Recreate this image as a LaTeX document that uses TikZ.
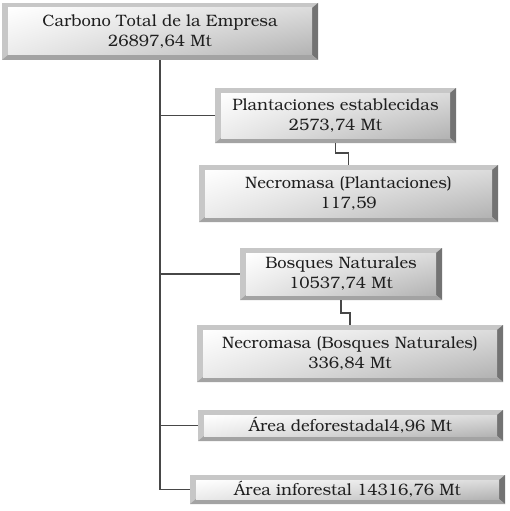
\documentclass[tikz,border=0pt]{standalone}
\usepackage[T1]{fontenc}
\usepackage{bookman}
\usetikzlibrary{shapes,arrows,positioning,shadings}
\tikzstyle{box}=[rectangle,inner sep=0pt,align=center,text=black!88,font=\fontsize{16.5}{20}\selectfont,
  path picture={
    \fill[black!22] (path picture bounding box.south west) rectangle (path picture bounding box.north east);
    \fill[black!55] (path picture bounding box.north east) -- (path picture bounding box.south east)
      -- ([shift={(-6pt,5pt)}]path picture bounding box.south east) -- ([shift={(-6pt,-5pt)}]path picture bounding box.north east) -- cycle;
    \fill[black!36] (path picture bounding box.south west) -- (path picture bounding box.south east)
      -- ([shift={(-6pt,5pt)}]path picture bounding box.south east) -- ([shift={(6pt,5pt)}]path picture bounding box.south west) -- cycle;
    \shade[upper left=white,upper right=black!14,lower left=black!8,lower right=black!30]
      ([shift={(6pt,-5pt)}]path picture bounding box.north west) rectangle ([shift={(-6pt,5pt)}]path picture bounding box.south east);
  }]
\tikzstyle{link}=[draw=black!72,line width=1.5pt]

\begin{document}
\begin{tikzpicture}[x=1pt,y=-1pt]
  \useasboundingbox (0,0) rectangle (509,511);

  \foreach \name/\lbl/\x/\y/\w/\h in {
      top/{Carbono Total de la Empresa\\26897,64 Mt}/160/31.5/316/57,
      plant/{Plantaciones establecidas\\2573,74 Mt}/335.5/115.5/241/55,
      necP/{Necromasa (Plantaciones)\\117,59}/348.5/193.5/299/57,
      bosq/{Bosques Naturales\\10537,74 Mt}/341/274/202/52,
      necB/{Necromasa (Bosques Naturales)\\336,84 Mt}/350/353.5/306/57,
      defo/{\'Area deforestadal4,96 Mt}/350.5/425.5/305/31,
      info/{\'Area inforestal 14316,76 Mt}/347.5/489.5/315/29}
    \node[box,minimum width=\w pt,minimum height=\h pt] (P-\name) at (\x,\y) {\lbl};

    \draw[link] (P-top.south) |- (P-plant.west);
    \draw[link] (P-top.south) |- (P-bosq.west);
    \draw[link] (P-top.south) |- (P-defo.west);
    \draw[link] (P-top.south) |- (P-info.west);
    \draw[link] (P-plant.south) -- ++(0,10) -| (P-necP.north);
    \draw[link] (P-bosq.south) -- ++(0,13) -| (P-necB.north);

\end{tikzpicture}
\end{document}
